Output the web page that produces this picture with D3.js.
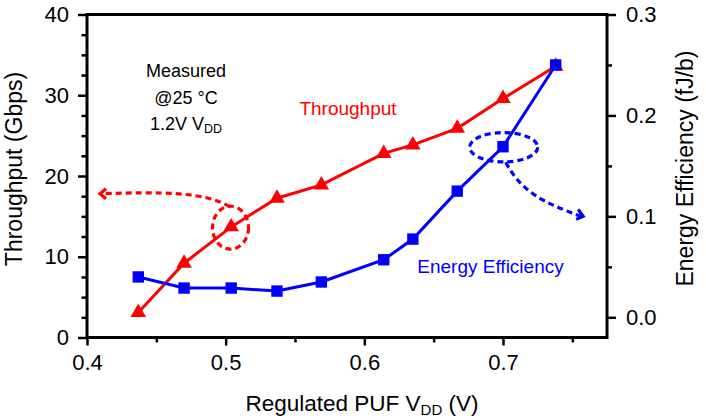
<!DOCTYPE html>
<html><head><meta charset="utf-8">
<script src="https://cdn.jsdelivr.net/npm/d3@7"></script>
<style>
body{margin:0;background:#fff;}
svg{display:block;font-family:"Liberation Sans",Arial,sans-serif;}
</style></head>
<body>
<svg id="chart" width="706" height="420"></svg>
<script>
// ---- data ----
const vdd        = [0.437, 0.470, 0.504, 0.537, 0.569, 0.614, 0.635, 0.667, 0.700, 0.738];
const throughput = [3.1, 9.2, 13.7, 17.25, 18.9, 22.8, 23.85, 25.9, 29.6, 33.6];
const efficiency = [0.040, 0.029, 0.029, 0.026, 0.035, 0.057, 0.0775, 0.125, 0.169, 0.250];
const xTicks  = [0.4, 0.5, 0.6, 0.7];
const xMinor  = [0.45, 0.55, 0.65, 0.75];
const yLTicks = [0, 10, 20, 30, 40];
const yLMinor = [2.5, 5, 7.5, 12.5, 15, 17.5, 22.5, 25, 27.5, 32.5, 35, 37.5];
const yRTicks = [0.0, 0.1, 0.2, 0.3];
const yRMinor = [0.05, 0.15, 0.25];
// annotations (data coordinates)
const redCircle  = {x: 0.5035, y: 13.6};
const redArrowTip = {x: 0.4094, y: 17.8};
const blueEllipse = {x: 0.7005, y: 0.1685};
const blueArrowTip = {x: 0.7578, y: 0.100};

const svg = d3.select("#chart");
const L = 87, R = 607, T = 14.5, B = 337.5;
const x  = d3.scaleLinear().domain([0.4, 0.775]).range([L, R]);
const yL = d3.scaleLinear().domain([0, 40]).range([B, T]);
const yR = d3.scaleLinear().domain([-0.02, 0.3]).range([B, T]);

function styleAxis(g){
  g.select(".domain").remove();
  g.selectAll(".tick line").attr("stroke","#000").attr("stroke-width",2.5);
  g.selectAll(".tick text").attr("fill","#000").attr("font-size","22px")
   .attr("font-family","'Liberation Sans',Arial,sans-serif");
}

svg.append("g").attr("transform",`translate(${L},0)`)
  .call(d3.axisLeft(yL).tickValues(yLTicks).tickSize(9).tickPadding(9).tickSizeOuter(0))
  .call(styleAxis);
svg.append("g").attr("transform",`translate(${L},0)`)
  .call(d3.axisLeft(yL).tickValues(yLMinor).tickSize(5.5).tickFormat("").tickSizeOuter(0))
  .call(styleAxis);
svg.append("g").attr("transform",`translate(0,${B})`)
  .call(d3.axisBottom(x).tickValues(xTicks).tickSize(8).tickPadding(8.5).tickFormat(d3.format(".1f")).tickSizeOuter(0))
  .call(styleAxis);
svg.append("g").attr("transform",`translate(0,${B})`)
  .call(d3.axisBottom(x).tickValues(xMinor).tickSize(5).tickFormat("").tickSizeOuter(0))
  .call(styleAxis);
svg.append("g").attr("transform",`translate(${R},0)`)
  .call(d3.axisRight(yR).tickValues(yRTicks).tickSize(9).tickPadding(10).tickFormat(d3.format(".1f")).tickSizeOuter(0))
  .call(styleAxis);
svg.append("g").attr("transform",`translate(${R},0)`)
  .call(d3.axisRight(yR).tickValues(yRMinor).tickSize(5).tickFormat("").tickSizeOuter(0))
  .call(styleAxis);

svg.append("rect").attr("x",L).attr("y",T).attr("width",R-L).attr("height",B-T)
  .attr("fill","none").attr("stroke","#000").attr("stroke-width",3);

svg.append("text").attr("transform","translate(22,169) rotate(-90)")
  .attr("text-anchor","middle").attr("font-size","23px").text("Throughput (Gbps)");
svg.append("text").attr("transform","translate(693,168.5) rotate(-90)")
  .attr("text-anchor","middle").attr("font-size","23px").text("Energy Efficiency (fJ/b)");
const xt = svg.append("text").attr("x",362).attr("y",411).attr("text-anchor","middle").attr("font-size","22.5px");
xt.append("tspan").text("Regulated PUF V");
xt.append("tspan").attr("font-size","15px").attr("dy",4).text("DD");
xt.append("tspan").attr("dy",-4).text(" (V)");

const redLine = d3.line().x((d,i)=>x(vdd[i])).y(d=>yL(d));
const blueLine = d3.line().x((d,i)=>x(vdd[i])).y(d=>yR(d));
svg.append("path").datum(throughput).attr("d",redLine).attr("fill","none").attr("stroke","#ff0000").attr("stroke-width",3);
svg.append("path").datum(efficiency).attr("d",blueLine).attr("fill","none").attr("stroke","#0000ff").attr("stroke-width",3);

svg.selectAll(".tri").data(throughput).join("path")
  .attr("transform",(d,i)=>`translate(${x(vdd[i])},${yL(d)})`)
  .attr("d",d3.symbol(d3.symbolTriangle,105)).attr("fill","#ff0000");
svg.selectAll(".sq").data(efficiency).join("path")
  .attr("transform",(d,i)=>`translate(${x(vdd[i])},${yR(d)})`)
  .attr("d",d3.symbol(d3.symbolSquare,130)).attr("fill","#0000ff");

const dash = "6,4";
const dw = 3.2;
const rc = {cx:x(redCircle.x), cy:yL(redCircle.y)};
svg.append("ellipse").attr("cx",rc.cx).attr("cy",rc.cy).attr("rx",18).attr("ry",21.5)
  .attr("fill","none").attr("stroke","#ff0000").attr("stroke-width",dw).attr("stroke-dasharray",dash);
const rt = {x:x(redArrowTip.x), y:yL(redArrowTip.y)};
svg.append("path")
  .attr("d",`M${rc.cx-1},${rc.cy-21} C${rc.cx-25},${rc.cy-36} ${rt.x+60},${rt.y-2} ${rt.x+2},${rt.y}`)
  .attr("fill","none").attr("stroke","#ff0000").attr("stroke-width",dw).attr("stroke-dasharray",dash);
svg.append("path").attr("d",`M${rt.x+6},${rt.y-5} L${rt.x},${rt.y} L${rt.x+6},${rt.y+5}`)
  .attr("fill","none").attr("stroke","#ff0000").attr("stroke-width",dw);

const be = {cx:x(blueEllipse.x), cy:yR(blueEllipse.y)};
svg.append("ellipse").attr("cx",be.cx).attr("cy",be.cy).attr("rx",34).attr("ry",14.7)
  .attr("fill","none").attr("stroke","#0000ff").attr("stroke-width",dw).attr("stroke-dasharray",dash);
const bt = {x:x(blueArrowTip.x), y:yR(blueArrowTip.y)};
svg.append("path")
  .attr("d",`M${be.cx+2},${be.cy+15} C${be.cx+18},${be.cy+45} ${bt.x-40},${bt.y-14} ${bt.x-2},${bt.y}`)
  .attr("fill","none").attr("stroke","#0000ff").attr("stroke-width",dw).attr("stroke-dasharray",dash);
svg.append("path").attr("d",`M${bt.x-5},${bt.y-7} L${bt.x},${bt.y} L${bt.x-7},${bt.y+3}`)
  .attr("fill","none").attr("stroke","#0000ff").attr("stroke-width",dw);

const m = svg.append("text").attr("text-anchor","middle").attr("font-size","18px").attr("fill","#000");
m.append("tspan").attr("x",186).attr("y",77).text("Measured");
m.append("tspan").attr("x",186).attr("y",104).text("@25 °C");
const m3 = svg.append("text").attr("x",186).attr("y",130).attr("text-anchor","middle").attr("font-size","18px");
m3.append("tspan").text("1.2V V");
m3.append("tspan").attr("font-size","12.5px").attr("dy",3).text("DD");

svg.append("text").attr("x",348).attr("y",114.5).attr("text-anchor","middle")
  .attr("font-size","19px").attr("fill","#ff0000").text("Throughput");
svg.append("text").attr("x",490.5).attr("y",273).attr("text-anchor","middle")
  .attr("font-size","19px").attr("fill","#0000ff").text("Energy Efficiency");
</script>
</body></html>
